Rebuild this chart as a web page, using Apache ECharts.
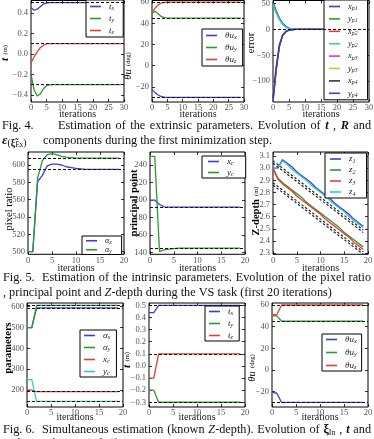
<!DOCTYPE html>
<html><head><meta charset="utf-8">
<script src="https://cdn.jsdelivr.net/npm/echarts@6/dist/echarts.min.js"></script>
<style>html,body{margin:0;padding:0;background:#fff}#c{width:374px;height:439px}</style>
</head><body><div id="c"></div>
<script>
// ================= DATA =================
const iter30 = [0,1,2,3,4,5,6,7,8,9,10,11,12,13,14,15,16,17,18,19,20,21,22,23,24,25,26,27,28,29];
const iter20 = [0,1,2,3,4,5,6,7,8,9,10,11,12,13,14,15,16,17,18,19];
const xTicks30 = [0,5,10,15,20,25,30];
const xTicks20 = [0,5,10,15,20];

// Fig. 4 - translation t (m)
const t4x = [0.45,0.425,0.435,0.46,0.485,0.497,0.5,0.5,0.5,0.5,
             0.5,0.5,0.5,0.5,0.5,0.5,0.5,0.5,0.5,0.5,
             0.5,0.5,0.5,0.5,0.5,0.5,0.5,0.5,0.5,0.5];
const t4y = [-0.2,-0.35,-0.41,-0.39,-0.34,-0.31,-0.302,-0.3,-0.3,-0.3,
             -0.3,-0.3,-0.3,-0.3,-0.3,-0.3,-0.3,-0.3,-0.3,-0.3,
             -0.3,-0.3,-0.3,-0.3,-0.3,-0.3,-0.3,-0.3,-0.3,-0.3];
const t4z = [-0.085,-0.03,0.02,0.06,0.085,0.097,0.1,0.1,0.1,0.1,
             0.1,0.1,0.1,0.1,0.1,0.1,0.1,0.1,0.1,0.1,
             0.1,0.1,0.1,0.1,0.1,0.1,0.1,0.1,0.1,0.1];
const t4Target = [0.5,-0.3,0.1];
const t4Ticks = [-0.4,-0.2,0.0,0.2,0.4];

// Fig. 4 - rotation theta u (deg)
const th4x = [-22.5,-25.5,-27.8,-29.2,-29.8,-30,-30,-30,-30,-30,
              -30,-30,-30,-30,-30,-30,-30,-30,-30,-30,
              -30,-30,-30,-30,-30,-30,-30,-30,-30,-30];
const th4y = [49.6,51.5,49,46.5,45.4,45.1,45,45,45,45,
              45,45,45,45,45,45,45,45,45,45,
              45,45,45,45,45,45,45,45,45,45];
const th4z = [50,54.5,57.5,59.2,59.8,60,60,60,60,60,
              60,60,60,60,60,60,60,60,60,60,
              60,60,60,60,60,60,60,60,60,60];
const th4Target = [-30,45,60];
const th4Ticks = [-20,0,20,40,60];

// Fig. 4 - image point errors
const ex1 = [53,36,22,12,6,2.5,1,0.3,0,0, 0,0,0,0,0,0,0,0,0,0, 0,0,0,0,0,0,0,0,0,0];
const ey1 = [50,34,20,11,5,2,0.8,0.2,0,0, 0,0,0,0,0,0,0,0,0,0, 0,0,0,0,0,0,0,0,0,0];
const ex2 = [-140,-78,-32,-12,-4.5,-1.5,-0.5,0,0,0, 0,0,0,0,0,0,0,0,0,0, 0,0,0,0,0,0,0,0,0,0];
const ey2 = [48,32,19,10,4.5,2,0.7,0.2,0,0, 0,0,0,0,0,0,0,0,0,0, 0,0,0,0,0,0,0,0,0,0];
const ex3 = [-137,-76,-31,-11,-4,-1.4,-0.4,0,0,0, 0,0,0,0,0,0,0,0,0,0, 0,0,0,0,0,0,0,0,0,0];
const ey3 = [-125,-70,-28,-10,-3.8,-1.3,-0.4,0,0,0, 0,0,0,0,0,0,0,0,0,0, 0,0,0,0,0,0,0,0,0,0];
const ex4 = [-132,-74,-30,-11,-4,-1.4,-0.4,0,0,0, 0,0,0,0,0,0,0,0,0,0, 0,0,0,0,0,0,0,0,0,0];
const ey4 = [-140,-80,-33,-12,-4.6,-1.6,-0.5,0,0,0, 0,0,0,0,0,0,0,0,0,0, 0,0,0,0,0,0,0,0,0,0];
const errTarget = 0;
const errTicks = [-100,-50,0,50];

// Fig. 5 - pixel ratio
const ax5 = [500,500,581,588,599,601,601,600,598,597, 596,595.5,595,595,595,595,595,595,595,595];
const ay5 = [500,500,585,605,612,613,612,610,609,608.5, 608,608,608,608,608,608,608,608,608,608];
const pr5Target = [595,608];
const pr5Ticks = [500,520,540,560,580,600];

// Fig. 5 - principal point
const xc5 = [200,200,195,192.3,192,192,192,192,192,192, 192,192,192,192,192,192,192,192,192,192];
const yc5 = [250,250,141,143,144,144.5,145,145,145,145, 145,145,145,145,145,145,145,145,145,145];
const pp5Target = [192,145];
const pp5Ticks = [140,160,180,200,220,240];

// Fig. 5 - Z-depth (m), estimates and true values (dashed)
const z1 = [3.00,3.00,3.07,3.04,3.01,2.97,2.94,2.91,2.88,2.84, 2.81,2.78,2.75,2.71,2.68,2.65,2.62,2.58,2.55,2.52];
const z2 = [3.00,2.92,2.88,2.85,2.82,2.79,2.76,2.72,2.69,2.66, 2.63,2.60,2.57,2.54,2.51,2.47,2.44,2.41,2.38,2.35];
const z3 = [3.00,2.91,2.87,2.84,2.81,2.77,2.74,2.71,2.68,2.65, 2.62,2.58,2.55,2.52,2.49,2.46,2.43,2.39,2.36,2.33];
const z4 = [3.00,3.00,3.06,3.03,2.99,2.96,2.93,2.90,2.86,2.83, 2.80,2.77,2.73,2.70,2.67,2.64,2.60,2.57,2.54,2.51];
const zt1 = [3.06,3.03,3.00,2.97,2.94,2.91,2.88,2.85,2.82,2.79, 2.76,2.73,2.70,2.67,2.64,2.61,2.58,2.55,2.52,2.49];
const zt2 = [2.88,2.85,2.82,2.79,2.76,2.73,2.70,2.67,2.64,2.61, 2.58,2.55,2.52,2.49,2.46,2.43,2.40,2.37,2.34,2.31];
const zt3 = [2.86,2.83,2.80,2.77,2.74,2.71,2.68,2.65,2.62,2.59, 2.56,2.53,2.50,2.47,2.44,2.41,2.38,2.35,2.32,2.29];
const zt4 = [3.04,3.01,2.98,2.95,2.92,2.89,2.86,2.83,2.80,2.77, 2.74,2.71,2.68,2.65,2.62,2.59,2.56,2.53,2.50,2.47];
const zTicks = [2.3,2.4,2.5,2.6,2.7,2.8,2.9,3.0,3.1];

// Fig. 6 - intrinsic parameters
const pax6 = [500,500,595,595,595,595,595,595,595,595, 595,595,595,595,595,595,595,595,595,595];
const pay6 = [500,500,607,607,607,607,607,607,607,607, 607,607,607,607,607,607,607,607,607,607];
const pxc6 = [200,199,192,192,192,192,192,192,192,192, 192,192,192,192,192,192,192,192,192,192];
const pyc6 = [250,250,145,145,145,145,145,145,145,145, 145,145,145,145,145,145,145,145,145,145];
const par6Target = [595,607,192,145];
const par6Ticks = [200,300,400,500,600];

// Fig. 6 - translation
const t6x = [0.44,0.44,0.5,0.5,0.5,0.5,0.5,0.5,0.5,0.5, 0.5,0.5,0.5,0.5,0.5,0.5,0.5,0.5,0.5,0.5];
const t6y = [-0.2,-0.2,-0.3,-0.3,-0.3,-0.3,-0.3,-0.3,-0.3,-0.3, -0.3,-0.3,-0.3,-0.3,-0.3,-0.3,-0.3,-0.3,-0.3,-0.3];
const t6z = [-0.1,-0.1,0.1,0.1,0.1,0.1,0.1,0.1,0.1,0.1, 0.1,0.1,0.1,0.1,0.1,0.1,0.1,0.1,0.1,0.1];
const t6Target = [0.5,-0.3,0.1];
const t6Ticks = [-0.3,-0.2,-0.1,0.0,0.1,0.2,0.3,0.4,0.5];

// Fig. 6 - rotation
const th6x = [-20.5,-21.5,-30,-30,-30,-30,-30,-30,-30,-30, -30,-30,-30,-30,-30,-30,-30,-30,-30,-30];
const th6y = [50,50,45,45,45,45,45,45,45,45, 45,45,45,45,45,45,45,45,45,45];
const th6z = [51,51,60,60,60,60,60,60,60,60, 60,60,60,60,60,60,60,60,60,60];
const th6Target = [-30,45,60];
const th6Ticks = [-20,0,20,40,60];

// ================= STYLE / LAYOUT =================
const COL = {b:'#3c3cdc', g:'#2e9a2e', r:'#e83a3a', c:'#35c8c8', m:'#c840c8', y:'#c8c830', k:'#333333'};
const SERIF = 'Liberation Serif';

const panels = [
  {g:[31,0.5,93,101.5], x:iter30, xt:30, ymin:-0.469, ymax:0.52, yt:t4Ticks, dec:1,
   s:[['t_x',t4x,'b',t4Target[0]],['t_y',t4y,'g',t4Target[1]],['t_z',t4z,'r',t4Target[2]]],
   lg:{l:86,t:0,pad:[1.5,9,1.5,4],gap:2,lh:10,fs:9}},
  {g:[152,0.5,92,101.5], x:iter30, xt:30, ymin:-34.4, ymax:61.6, yt:th4Ticks, dec:0,
   s:[['θu_x',th4x,'b',th4Target[0]],['θu_y',th4y,'g',th4Target[1]],['θu_z',th4z,'r',th4Target[2]]],
   lg:{l:202,t:29,pad:[1.5,6,1.5,4],gap:2,lh:10,fs:9}},
  {g:[273,0.5,96,101.5], x:iter30, xt:30, ymin:-140.4, ymax:56, yt:errTicks, dec:0,
   s:[['x_p1',ex1,'b',errTarget],['y_p1',ey1,'g',null],['x_p2',ex2,'r',null],['y_p2',ey2,'c',null],
      ['x_p3',ex3,'m',null],['y_p3',ey3,'y',null],['x_p4',ex4,'k',null],['y_p4',ey4,'b',null]],
   lg:{l:324,t:0,pad:[1.5,10,1.5,5],gap:2.4,lh:10,fs:8.5}},
  {g:[28,152,96,102.3], x:iter20, xt:20, ymin:497, ymax:615, yt:pr5Ticks, dec:0,
   s:[['α_x',ax5,'b',pr5Target[0]],['α_y',ay5,'g',pr5Target[1]]],
   lg:{l:82,t:236,pad:[0.5,10,0.5,4],gap:0.5,lh:8.5,fs:8}},
  {g:[150,152,95,102.3], x:iter20, xt:20, ymin:138, ymax:255, yt:pp5Ticks, dec:0,
   s:[['x_c',xc5,'b',pp5Target[0]],['y_c',yc5,'g',pp5Target[1]]],
   lg:{l:202,t:156,pad:[0.5,12,0.5,6],gap:1,lh:10,fs:9}},
  {g:[273,152,95,102.3], x:iter20, xt:20, ymin:2.29, ymax:3.133, yt:zTicks, dec:1,
   s:[['z_1',z1,'b',null],['z_2',z2,'g',null],['z_3',z3,'r',null],['z_4',z4,'c',null]],
   dash:[zt1,zt2,zt3,zt4],
   lg:{l:325,t:153,pad:[1,11,1,5],gap:1,lh:10,fs:9}},
  {g:[27,303,96,104], x:iter20, xt:20, ymin:118, ymax:618, yt:par6Ticks, dec:0,
   s:[['α_x',pax6,'b',par6Target[0]],['α_y',pay6,'g',par6Target[1]],['x_c',pxc6,'r',par6Target[2]],['y_c',pyc6,'c',par6Target[3]]],
   lg:{l:80,t:330,pad:[0.5,6,0.5,4],gap:2,lh:10,fs:9}},
  {g:[149,303,96,104], x:iter20, xt:20, ymin:-0.339, ymax:0.519, yt:t6Ticks, dec:1,
   s:[['t_x',t6x,'b',t6Target[0]],['t_y',t6y,'g',t6Target[1]],['t_z',t6z,'r',t6Target[2]]],
   lg:{l:205,t:306,pad:[0.5,6,0.5,4],gap:2,lh:10,fs:9}},
  {g:[272,303,96,104], x:iter20, xt:20, ymin:-34.2, ymax:61.85, yt:th6Ticks, dec:0,
   s:[['θu_x',th6x,'b',th6Target[0]],['θu_y',th6y,'g',th6Target[1]],['θu_z',th6z,'r',th6Target[2]]],
   lg:{l:322,t:334,pad:[0.5,5,0.5,4],gap:3,lh:10,fs:9}}
];

function numFmt(dec){ return v => (dec ? v.toFixed(dec) : String(Math.round(v))).replace('-', '\u2212'); }
function lgFmt(name){ const n = name.split('|')[1]; const k = n.indexOf('_'); return '{i|' + n.slice(0,k) + '}{s|' + n.slice(k+1) + '}'; }

const option = {animation:false, backgroundColor:'#fff', grid:[], xAxis:[], yAxis:[], series:[], legend:[], graphic:[]};
const tickStyle = {inside:true, length:3, lineStyle:{color:'#000', width:0.8}};
const noLine = {show:false, onZero:false};

panels.forEach((p,i)=>{
  option.grid.push({left:p.g[0], top:p.g[1], width:p.g[2], height:p.g[3], show:true, borderColor:'#000', borderWidth:1,
    backgroundColor:'transparent', containLabel:false, outerBoundsMode:'none'});
  const xb = {gridIndex:i, type:'value', min:0, max:p.xt, interval:5, axisLine:noLine, splitLine:{show:false}};
  option.xAxis.push(Object.assign({}, xb, {position:'bottom', axisTick:tickStyle,
    axisLabel:{fontFamily:SERIF, fontSize:8.5, color:'#555', margin:1.5}}));
  option.xAxis.push(Object.assign({}, xb, {position:'top', axisTick:tickStyle, axisLabel:{show:false}}));
  const yb = {gridIndex:i, type:'value', min:p.ymin, max:p.ymax, axisLine:noLine, splitLine:{show:false}};
  option.yAxis.push(Object.assign({}, yb, {position:'left', axisTick:Object.assign({customValues:p.yt}, tickStyle),
    axisLabel:{customValues:p.yt, formatter:numFmt(p.dec), fontFamily:SERIF, fontSize:8.5, color:'#555', margin:3}}));
  option.yAxis.push(Object.assign({}, yb, {position:'right', axisTick:Object.assign({customValues:p.yt}, tickStyle),
    axisLabel:{show:false, customValues:p.yt}}));
  const names = [];
  p.s.forEach(([nm,data,c,tgt])=>{
    const name = i + '|' + nm; names.push(name);
    const s = {type:'line', name, xAxisIndex:2*i, yAxisIndex:2*i, data:data.map((v,k)=>[p.x[k], v]),
      showSymbol:false, symbol:'none', color:COL[c], itemStyle:{color:COL[c]}, lineStyle:{width:1.3, color:COL[c]}, z:2};
    if (tgt !== null) s.markLine = {silent:true, symbol:['none','none'], label:{show:false}, animation:false,
      lineStyle:{color:'#111', type:[3,2], width:1}, emphasis:{disabled:true}, data:[{yAxis:tgt}]};
    option.series.push(s);
  });
  if (p.dash) p.dash.forEach(d=>{
    option.series.push({type:'line', name:'dash', xAxisIndex:2*i, yAxisIndex:2*i, data:d.map((v,k)=>[p.x[k], v]),
      showSymbol:false, symbol:'none', lineStyle:{width:1.2, color:'#222', type:[2.5,2]}, z:3, silent:true});
  });
  const L = p.lg;
  option.legend.push({left:L.l, top:L.t, orient:'vertical', data:names, icon:'rect', itemWidth:11, itemHeight:1.6,
    itemGap:L.gap, padding:L.pad, borderColor:'#000', borderWidth:1, borderRadius:0, backgroundColor:'#fff',
    selectedMode:false, formatter:lgFmt,
    textStyle:{fontFamily:SERIF, fontSize:L.fs, color:'#222', lineHeight:L.lh,
      rich:{i:{fontFamily:SERIF, fontStyle:'italic', fontSize:L.fs, color:'#222', lineHeight:L.lh, padding:[0,0,0,3]},
            s:{fontFamily:SERIF, fontStyle:'italic', fontSize:L.fs*0.68, color:'#222', lineHeight:L.lh, verticalAlign:'bottom'}}}});
});

// ---- axis names ----
const nameRich = {
  n:{fontFamily:SERIF, fontSize:10.5, color:'#222'},
  b:{fontFamily:SERIF, fontSize:10.5, fontWeight:'bold', color:'#222'},
  bi:{fontFamily:SERIF, fontSize:11, fontWeight:'bold', fontStyle:'italic', color:'#222'},
  it:{fontFamily:SERIF, fontSize:10.5, fontStyle:'italic', color:'#222'},
  sm:{fontFamily:SERIF, fontSize:6.5, color:'#222'}
};
const yNames = [
  [5,53,'{bi|t} {sm|(m)}'], [128,66,'{it|θu} {sm|(deg)}'], [251,43,'{n|error}'],
  [9,209,'{n|pixel ratio}'], [134,203,'{b|principal point}'], [256,211,'{b|Z-depth} {sm|(m)}'],
  [8,348,'{b|parameters}'], [127,360,'{bi|t} {sm|(m)}'], [252,368,'{it|θu} {sm|(deg)}']
];
yNames.forEach(([x,y,t])=>option.graphic.push({type:'text', x, y, rotation:Math.PI/2, silent:true,
  style:{text:t, rich:nameRich, align:'center', verticalAlign:'middle'}}));
const xNameY = [114.5,114.5,114.5,268.5,268.5,268.5,417.5,417.5,417.5];
panels.forEach((p,i)=>option.graphic.push({type:'text', x:p.g[0]+p.g[2]/2, y:xNameY[i], silent:true,
  style:{text:'iterations', font:'10px "' + SERIF + '"', fill:'#222', align:'center', verticalAlign:'middle'}}));

// ---- captions ----
const cv = document.createElement('canvas').getContext('2d');
function fontStr(st, size){ st = st || ''; return (st.includes('i')?'italic ':'') + (st.includes('b')?'bold ':'') + size.toFixed(2) + 'px "' + SERIF + '"'; }
function toWord(w){ return typeof w === 'string' ? [{s:w}] : w; }
function wWidth(word, S){ return word.reduce((a,p)=>{ cv.font = fontStr(p.st, S*(p.sc||1)); return a + cv.measureText(p.s).width; }, 0); }
function placeWord(word, x, y, S){ let cx = x; word.forEach(p=>{ const f = fontStr(p.st, S*(p.sc||1)); cv.font = f;
  option.graphic.push({type:'text', x:cx, y:y+(p.dy||0), silent:true, style:{text:p.s, font:f, fill:'#111', align:'left', verticalAlign:'middle'}});
  cx += cv.measureText(p.s).width; }); }
function justify(words, x0, x1, y, S){ const ws = words.map(toWord); const wd = ws.map(w=>wWidth(w,S));
  const gap = (x1 - x0 - wd.reduce((a,b)=>a+b,0)) / (ws.length - 1); let x = x0;
  ws.forEach((w,k)=>{ placeWord(w, x, y, S); x += wd[k] + gap; }); }
function lineWidth(words, S){ cv.font = fontStr('', S); const sp = cv.measureText(' ').width; const ws = words.map(toWord);
  return ws.reduce((a,w)=>a + wWidth(w,S), 0) + sp*(ws.length-1); }
function leftLine(words, x0, y, S){ cv.font = fontStr('', S); const sp = cv.measureText(' ').width; let x = x0;
  words.map(toWord).forEach(w=>{ placeWord(w, x, y, S); x += wWidth(w,S) + sp; }); }

const Zd = [{s:'Z', st:'i'},{s:'-depth'}];
const cap5b = [',','principal','point','and',Zd,'during','the','VS','task','(first','20','iterations)'];
const S = 12 * 329 / lineWidth(cap5b, 12);

placeWord(toWord('Fig. 4.'), 2, 125.5, S);
justify(['Estimation','of','the','extrinsic','parameters.','Evolution','of',[{s:'t',st:'bi'}],',',[{s:'R',st:'bi'}],'and'], 58, 371, 125.5, S);
placeWord([{s:'ε',st:'bi',sc:1.1},{s:'(',sc:0.8,dy:3},{s:'ξ̃',st:'b',sc:0.8,dy:3},{s:'Ex',sc:0.6,dy:5},{s:')',sc:0.8,dy:3}], 2, 140.5, S);
leftLine(['components','during','the','first','minimization','step.'], 43, 140.5, S);

placeWord(toWord('Fig. 5.'), 3, 277.5, S);
justify(['Estimation','of','the','intrinsic','parameters.','Evolution','of','the','pixel','ratio'], 42, 371, 277.5, S);
leftLine(cap5b, 3, 292.5, S);

placeWord(toWord('Fig. 6.'), 3, 430, S);
justify(['Simultaneous','estimation','(known',[{s:'Z',st:'i'},{s:'-depth).'}],'Evolution','of',[{s:'ξ',st:'b'},{s:'In',sc:0.65,dy:3}],',',[{s:'t',st:'bi'}],'and'], 42, 371, 430, S);
leftLine([[{s:'R',st:'bi'}],'during','the','VS','task','(first','20','iterations).'], 3, 444, S);

const chart = echarts.init(document.getElementById('c'), null, {renderer:'canvas', width:374, height:439});
chart.setOption(option);
</script>
</body></html>
